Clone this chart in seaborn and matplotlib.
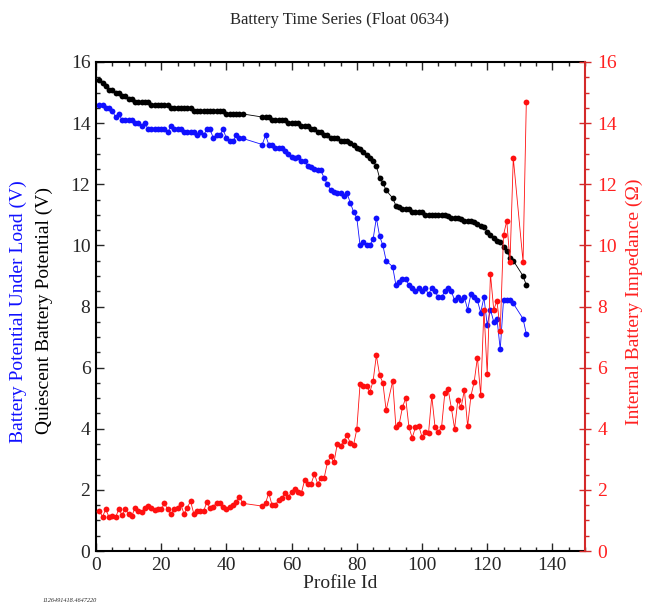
import matplotlib
matplotlib.use("Agg")
import matplotlib.pyplot as plt
import seaborn as sns
import pandas as pd
from matplotlib.ticker import MultipleLocator

# Profile ids (profiles 46-50, 90, 129 and 130 have no battery data)
profile_ids = [1, 2, 3, 4, 5, 6, 7, 8, 9, 10, 11, 12, 13, 14, 15, 16, 17, 18, 19, 20,
               21, 22, 23, 24, 25, 26, 27, 28, 29, 30, 31, 32, 33, 34, 35, 36, 37, 38, 39, 40,
               41, 42, 43, 44, 45,
               51, 52, 53, 54, 55, 56, 57, 58, 59, 60, 61, 62, 63, 64, 65, 66, 67, 68, 69, 70,
               71, 72, 73, 74, 75, 76, 77, 78, 79, 80, 81, 82, 83, 84, 85, 86, 87, 88, 89,
               91, 92, 93, 94, 95, 96, 97, 98, 99, 100, 101, 102, 103, 104, 105, 106, 107, 108,
               109, 110, 111, 112, 113, 114, 115, 116, 117, 118, 119, 120, 121, 122, 123, 124,
               125, 126, 127, 128, 131, 132]

# Quiescent battery potential (V)
quiescent_v = [15.4, 15.3, 15.2, 15.1, 15.1, 15.0, 15.0, 14.9, 14.9, 14.8, 14.8, 14.7, 14.7, 14.7,
               14.7, 14.7, 14.6, 14.6, 14.6, 14.6, 14.6, 14.6, 14.5, 14.5, 14.5, 14.5, 14.5, 14.5,
               14.5, 14.4, 14.4, 14.4, 14.4, 14.4, 14.4, 14.4, 14.4, 14.4, 14.4, 14.3, 14.3, 14.3,
               14.3, 14.3, 14.3,
               14.2, 14.2, 14.2, 14.1, 14.1, 14.1, 14.1, 14.1, 14.0, 14.0, 14.0, 14.0, 13.9, 13.9,
               13.9, 13.8, 13.8, 13.7, 13.7, 13.6, 13.6, 13.5, 13.5, 13.5, 13.4, 13.4, 13.4, 13.35,
               13.3, 13.2, 13.15, 13.05, 12.95, 12.85, 12.75, 12.6, 12.2, 12.05, 11.8,
               11.55, 11.3, 11.25, 11.2, 11.2, 11.2, 11.1, 11.1, 11.1, 11.1, 11.0, 11.0, 11.0, 11.0,
               11.0, 11.0, 11.0, 10.95, 10.9, 10.9, 10.9, 10.85, 10.8, 10.8, 10.8, 10.75, 10.7,
               10.65, 10.6, 10.45, 10.35, 10.25, 10.15, 10.1, 9.95, 9.8, 9.6, 9.5, 9.0, 8.7]

# Battery potential under load (V)
load_v = [14.6, 14.6, 14.5, 14.5, 14.4, 14.2, 14.3, 14.1, 14.1, 14.1, 14.1, 14.0, 14.0, 13.9,
          14.0, 13.8, 13.8, 13.8, 13.8, 13.8, 13.8, 13.7, 13.9, 13.8, 13.8, 13.8, 13.7, 13.7,
          13.7, 13.7, 13.6, 13.7, 13.6, 13.8, 13.8, 13.5, 13.6, 13.6, 13.8, 13.5, 13.4, 13.4,
          13.6, 13.5, 13.5,
          13.3, 13.6, 13.3, 13.3, 13.2, 13.2, 13.2, 13.1, 13.0, 12.9, 12.85, 12.9, 12.75, 12.75,
          12.6, 12.55, 12.5, 12.45, 12.45, 12.2, 12.0, 11.8, 11.75, 11.7, 11.7, 11.6, 11.7, 11.4,
          11.1, 10.9, 10.0, 10.1, 10.0, 10.0, 10.2, 10.9, 10.3, 10.0, 9.5,
          9.3, 8.7, 8.8, 8.9, 8.9, 8.7, 8.6, 8.5, 8.6, 8.5, 8.6, 8.4, 8.6, 8.5, 8.3, 8.3, 8.5,
          8.6, 8.5, 8.2, 8.3, 8.2, 8.3, 7.9, 8.4, 8.3, 8.2, 7.8, 8.3, 7.4, 7.9, 7.5, 7.6, 6.6,
          8.2, 8.2, 8.2, 8.1, 7.6, 7.1]

# Internal battery impedance (Ohm)
impedance = [1.32, 1.12, 1.37, 1.10, 1.13, 1.10, 1.37, 1.18, 1.37, 1.22, 1.15, 1.42, 1.30, 1.27,
             1.40, 1.47, 1.40, 1.34, 1.36, 1.36, 1.56, 1.36, 1.21, 1.36, 1.42, 1.54, 1.21, 1.42,
             1.63, 1.22, 1.32, 1.30, 1.30, 1.60, 1.40, 1.45, 1.58, 1.58, 1.45, 1.36, 1.45, 1.50,
             1.60, 1.78, 1.56,
             1.47, 1.56, 1.90, 1.50, 1.50, 1.67, 1.73, 1.90, 1.77, 1.94, 2.02, 1.94, 1.90, 2.32,
             2.19, 2.20, 2.52, 2.20, 2.38, 2.40, 2.90, 3.10, 2.90, 3.50, 3.43, 3.60, 3.80, 3.53,
             3.47, 3.98, 5.46, 5.40, 5.40, 5.20, 5.56, 6.40, 5.76, 5.50, 4.60,
             5.56, 4.05, 4.15, 4.70, 5.00, 4.05, 3.70, 4.05, 4.10, 3.73, 3.90, 3.85, 5.07, 4.05,
             3.90, 4.05, 5.17, 5.30, 4.68, 4.00, 4.94, 4.70, 5.27, 4.08, 5.07, 5.53, 6.33, 5.10,
             7.90, 5.80, 9.06, 7.90, 8.18, 7.20, 10.34, 10.80, 9.46, 12.86, 9.46, 14.70]

df = pd.DataFrame({"profile": profile_ids, "quiescent": quiescent_v,
                   "load": load_v, "impedance": impedance})

sns.set_style("ticks")
plt.rcParams["font.family"] = ["Liberation Serif", "DejaVu Serif"]

fig = plt.figure(figsize=(6.5, 6.1), dpi=100)
ax = fig.add_axes([96 / 650, 1 - 551 / 610, (585 - 96) / 650, (551 - 62) / 610])
ax2 = ax.twinx()

line_kw = dict(marker="o", markersize=4.2, linewidth=0.6, markeredgewidth=0)
sns.lineplot(data=df, x="profile", y="quiescent", ax=ax, color="black", **line_kw)
sns.lineplot(data=df, x="profile", y="load", ax=ax, color="#1010ff", **line_kw)
sns.lineplot(data=df, x="profile", y="impedance", ax=ax2, color="#ff1010", **line_kw)

for a in (ax, ax2):
    a.set_xlim(0, 150)
    a.set_ylim(0, 16)
    a.set_ylabel("")
ax.set_xlabel("Profile Id", fontsize=14, labelpad=1)

ax.xaxis.set_major_locator(MultipleLocator(20))
ax.xaxis.set_minor_locator(MultipleLocator(5))
ax.yaxis.set_major_locator(MultipleLocator(2))
ax.yaxis.set_minor_locator(MultipleLocator(0.5))
ax2.yaxis.set_major_locator(MultipleLocator(2))
ax2.yaxis.set_minor_locator(MultipleLocator(0.5))

ax.tick_params(axis="x", which="both", direction="in", top=True, bottom=True,
               labelsize=14, pad=4, width=1.0)
ax.tick_params(axis="x", which="major", length=6)
ax.tick_params(axis="x", which="minor", length=3)
ax.tick_params(axis="y", which="both", direction="in", left=True, right=False,
               labelsize=14, pad=4, width=1.0)
ax.tick_params(axis="y", which="major", length=6)
ax.tick_params(axis="y", which="minor", length=3)

red_axis = "#d42a2a"
ax2.tick_params(axis="y", which="major", direction="inout", length=8, width=1.0,
                colors=red_axis, labelsize=14, labelcolor="#ff2020", pad=5)
ax2.tick_params(axis="y", which="minor", direction="out", length=3, width=1.0,
                colors=red_axis)

for side in ("left", "top", "bottom"):
    ax.spines[side].set_linewidth(1.5)
    ax.spines[side].set_color("black")
    ax2.spines[side].set_visible(False)
ax.spines["right"].set_visible(False)
ax2.spines["right"].set_color(red_axis)
ax2.spines["right"].set_linewidth(1.5)

fig.text(340 / 650, 1 - 20 / 610, "Battery Time Series (Float 0634)",
         ha="center", va="center", fontsize=12)
fig.text(18 / 650, 1 - 312 / 610, "Battery Potential Under Load (V)",
         rotation=90, ha="center", va="center", fontsize=14, color="#1010ff")
fig.text(44 / 650, 1 - 310 / 610, "Quiescent Battery Potential (V)",
         rotation=90, ha="center", va="center", fontsize=14, color="black")
fig.text(634 / 650, 1 - 302 / 610, "Internal Battery Impedance (\u03a9)",
         rotation=90, ha="center", va="center", fontsize=14, color="#ff2020")
fig.text(70 / 650, 1 - 601 / 610, "1126491418.4647220", ha="center", va="center",
         fontsize=4.5, style="italic")

fig.savefig("out.png", dpi=100, facecolor="white")
